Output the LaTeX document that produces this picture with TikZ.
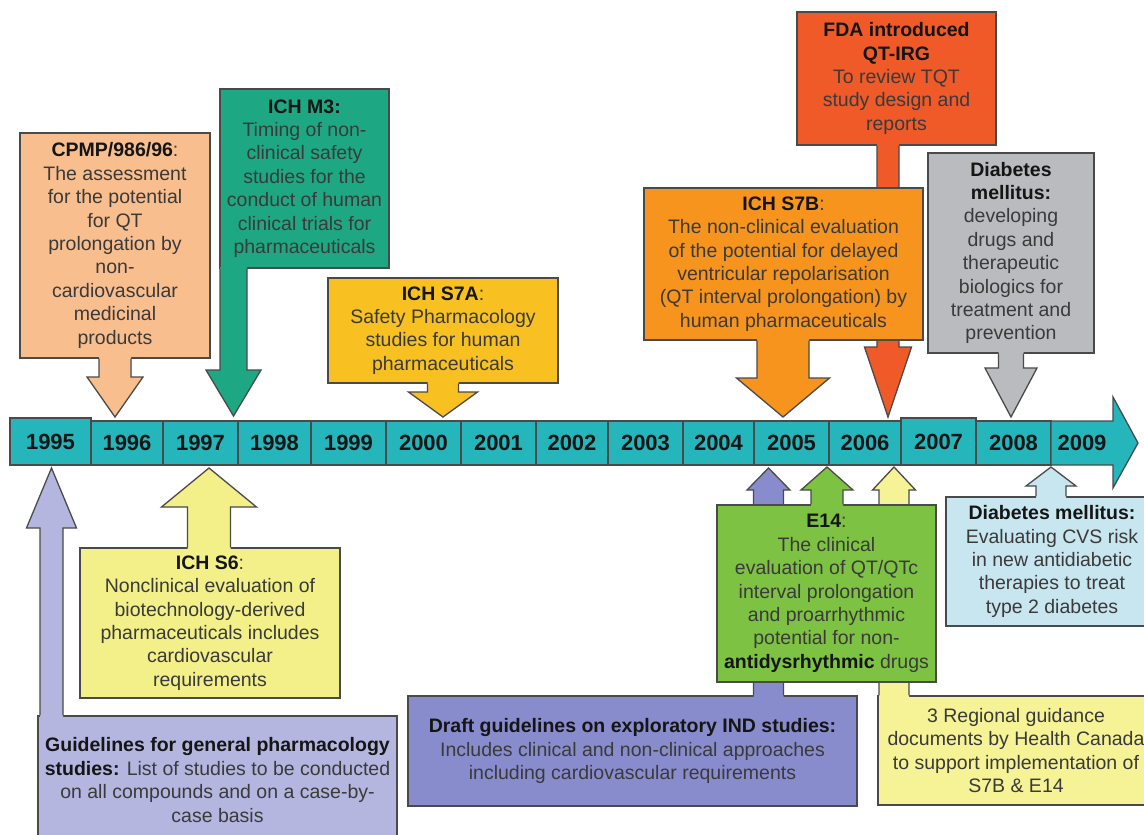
\documentclass[tikz,border=0pt]{standalone}
\usepackage{fontspec}
\setmainfont{Liberation Sans}
\usetikzlibrary{calc}

\definecolor{peach}{HTML}{F9BE8E}
\definecolor{m3green}{HTML}{1DA883}
\definecolor{s7agold}{HTML}{F8C020}
\definecolor{fdared}{HTML}{EF5A28}
\definecolor{s7borange}{HTML}{F7941E}
\definecolor{dmgray}{HTML}{B9BBBE}
\definecolor{barteal}{HTML}{24B6BB}
\definecolor{gpslav}{HTML}{B4B6E0}
\definecolor{s6yellow}{HTML}{F3F08A}
\definecolor{indpurple}{HTML}{888CCC}
\definecolor{e14green}{HTML}{7DC242}
\definecolor{hcyellow}{HTML}{F6F296}
\definecolor{dmblue}{HTML}{C8E6F0}
\definecolor{edgegray}{HTML}{4A4A4A}
\definecolor{bodytext}{HTML}{3A3A3A}
\definecolor{titletext}{HTML}{151515}

\newcommand{\boxtitle}[1]{\textbf{\color{titletext}#1}}
% colour, box anchor, tip, half shaft, half head, head length (signed)
\newcommand{\callarrow}[6]{%
  \fill[#1] let \p1=(#3), \p2=(#2) in
    (\x1-#4,{\y2+1.5*(#6)/abs(#6)}) -- (\x1-#4,{\y1+(#6)}) -- (\x1-#5,{\y1+(#6)}) -- (\p1)
    -- (\x1+#5,{\y1+(#6)}) -- (\x1+#4,{\y1+(#6)}) -- (\x1+#4,{\y2+1.5*(#6)/abs(#6)}) -- cycle;
  \draw[outline] let \p1=(#3), \p2=(#2) in
    (\x1-#4,\y2) -- (\x1-#4,{\y1+(#6)}) -- (\x1-#5,{\y1+(#6)}) -- (\p1)
    -- (\x1+#5,{\y1+(#6)}) -- (\x1+#4,{\y1+(#6)}) -- (\x1+#4,\y2);
}

\begin{document}
\begin{tikzpicture}[x=1pt,y=-1pt,
  callbox/.style={draw=edgegray,line width=1.3pt,fill=#1,align=center,inner sep=0pt,
    text=bodytext,font=\fontsize{19.5}{23.4}\selectfont},
  outline/.style={draw=edgegray,line width=1.3pt},
  cell/.style={fill=barteal,draw=edgegray,line width=1.3pt},
  yearlabel/.style={font=\fontsize{22}{24}\selectfont\bfseries,text=titletext}]
\useasboundingbox (0,0) rectangle (1144,835);
\clip (0,0) rectangle (1144,835);

% timeline
\foreach \yr/\xa/\xb/\yt in {1995/10/91/418,1996/91/163/421,1997/163/238/421,1998/238/311/421,
  1999/311/386/421,2000/386/461/421,2001/461/536/421,2002/536/608/421,2003/608/683/421,
  2004/683/754/421,2005/754/829/421,2006/829/901/421,2007/901/976/418,2008/976/1051/421}{
  \draw[cell] (\xa,\yt) rectangle (\xb,465);
  \node[yearlabel] (y\yr) at ({(\xa+\xb)/2},{(\yt+465)/2}) {\yr};
}
\draw[cell] (1051,421) -- (1113,421) -- (1113,397) -- (1138,443) -- (1113,488) -- (1113,465) -- (1051,465) -- cycle;
\node[yearlabel] (y2009) at (1082,443) {2009};

% above the timeline
\node[callbox=peach,minimum width=190,minimum height=225] (cpmp) at (115,245.5)
  {\boxtitle{CPMP/986/96}:\\The assessment\\for the potential\\for QT\\prolongation by\\non-\\cardiovascular\\medicinal\\products};
\coordinate (tcpmp) at (115,417);
\callarrow{peach}{cpmp.south}{tcpmp}{16}{28}{40}

\node[callbox=m3green,minimum width=169,minimum height=179] (m3) at (304.5,178.5)
  {\boxtitle{ICH M3:}\\Timing of non-\\clinical safety\\studies for the\\conduct of human\\clinical trials for\\pharmaceuticals};
\coordinate (tm3) at (233.5,416);
\callarrow{m3green}{m3.south}{tm3}{13.5}{27.5}{46}

\node[callbox=s7agold,minimum width=230,minimum height=105] (s7a) at (443,330.5)
  {\boxtitle{ICH S7A}:\\Safety Pharmacology\\studies for human\\pharmaceuticals};
\coordinate (ts7a) at (443,417);
\callarrow{s7agold}{s7a.south}{ts7a}{15.5}{34.5}{25}

\node[callbox=fdared,minimum width=199,minimum height=133] (fda) at (896.5,78.5)
  {\boxtitle{FDA introduced}\\\boxtitle{QT-IRG}\\To review TQT\\study design and\\reports};
\coordinate (tfda) at (888,417);
\callarrow{fdared}{fda.south}{tfda}{11}{23.5}{70}

\node[callbox=s7borange,minimum width=279,minimum height=152] (s7b) at (783.5,264)
  {\boxtitle{ICH S7B}:\\The non-clinical evaluation\\of the potential for delayed\\ventricular repolarisation\\(QT interval prolongation) by\\human pharmaceuticals};
\coordinate (ts7b) at (783,417);
\callarrow{s7borange}{s7b.south}{ts7b}{26}{46.5}{39}

\node[callbox=dmgray,minimum width=166,minimum height=200] (dmdev) at (1011,253)
  {\boxtitle{Diabetes}\\\boxtitle{mellitus:}\\developing\\drugs and\\therapeutic\\biologics for\\treatment and\\prevention};
\coordinate (tdmdev) at (1011,417);
\callarrow{dmgray}{dmdev.south}{tdmdev}{12.5}{26}{49}

% below the timeline
\node[callbox=gpslav,minimum width=359,minimum height=128] (gps) at (217.5,780)
  {\boxtitle{Guidelines for general pharmacology}\\\boxtitle{studies:} List of studies to be conducted\\on all compounds and on a case-by-\\case basis};
\coordinate (tgps) at (51.5,468);
\callarrow{gpslav}{gps.north}{tgps}{11.5}{25}{-60}

\node[callbox=s6yellow,minimum width=260,minimum height=150] (s6) at (210,623)
  {\boxtitle{ICH S6}:\\Nonclinical evaluation of\\biotechnology-derived\\pharmaceuticals includes\\cardiovascular\\requirements};
\coordinate (ts6) at (209,468);
\callarrow{s6yellow}{s6.north}{ts6}{21.5}{47.5}{-39}

\node[callbox=indpurple,minimum width=449,minimum height=110] (ind) at (632.5,751)
  {\boxtitle{Draft guidelines on exploratory IND studies:}\\Includes clinical and non-clinical approaches\\including cardiovascular requirements};
\coordinate (tind) at (768.5,468);
\callarrow{indpurple}{ind.north}{tind}{15}{21.5}{-22}

\node[callbox=hcyellow,minimum width=276,minimum height=109] (hc) at (1016,750.5)
  {3 Regional guidance\\documents by Health Canada\\to support implementation of\\S7B \& E14};
\coordinate (thc) at (894,467);
\callarrow{hcyellow}{hc.north}{thc}{15}{21.5}{-23}

\node[callbox=e14green,minimum width=219,minimum height=177] (e14) at (826.5,593.5)
  {\boxtitle{E14}:\\The clinical\\evaluation of QT/QTc\\interval prolongation\\and proarrhythmic\\potential for non-\\\boxtitle{antidysrhythmic} drugs};
\coordinate (te14) at (827,467);
\callarrow{e14green}{e14.north}{te14}{16}{26}{-23}

\node[callbox=dmblue,minimum width=212,minimum height=129] (dmcvs) at (1052,561.5)
  {\boxtitle{Diabetes mellitus:}\\Evaluating CVS risk\\in new antidiabetic\\therapies to treat\\type 2 diabetes};
\coordinate (tdmcvs) at (1051,467);
\callarrow{dmblue}{dmcvs.north}{tdmcvs}{15}{25}{-19}
\end{tikzpicture}
\end{document}
